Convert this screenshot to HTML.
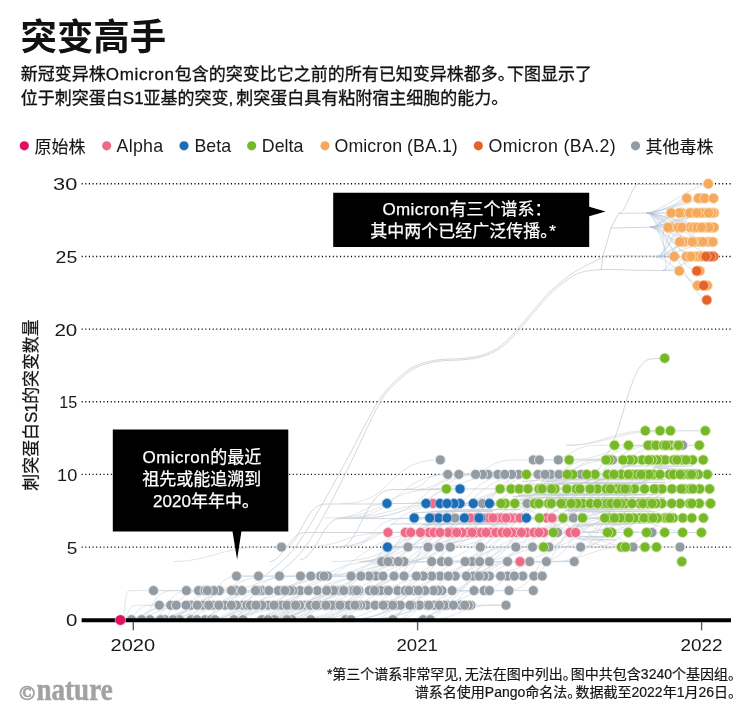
<!DOCTYPE html>
<html lang="zh-CN">
<head>
<meta charset="utf-8">
<title>突变高手</title>
<style>
html,body{margin:0;padding:0;background:#fff;}
body{width:751px;height:720px;overflow:hidden;position:relative;font-family:"Liberation Sans", "Noto Sans CJK SC", sans-serif;}
svg{position:absolute;left:0;top:0;display:block;will-change:transform;}
.p{letter-spacing:-0.5em;}
</style>
</head>
<body>
<svg width="751" height="720" viewBox="0 0 751 720">
<rect width="751" height="720" fill="#fff"/>

<!-- title + subtitle -->
<text x="20.6" y="50.2" font-family='"Liberation Sans", "Noto Sans CJK SC", sans-serif' font-weight="700" font-size="36.4" fill="#111">突变高手</text>
<g font-family='"Liberation Sans", "Noto Sans CJK SC", sans-serif' font-size="17" fill="#111" stroke="#111" stroke-width="0.3">
<text x="20.8" y="80.3">新冠变异株<tspan letter-spacing="0.66">Omicron</tspan>包含的突变比它之前的所有已知变异株都多<tspan>。</tspan><tspan dx="-7.6">下图显示了</tspan></text>
<text x="20.8" y="104.3">位于刺突蛋白S1亚基的突变<tspan>,</tspan><tspan dx="3">刺突蛋白具有粘附宿主细胞的能力。</tspan></text>
</g>

<!-- legend -->
<g>
<circle cx="24.3" cy="145.8" r="4.6" fill="#e2105f"/>
<circle cx="106.7" cy="145.8" r="4.6" fill="#ee6b88"/>
<circle cx="184" cy="145.8" r="4.6" fill="#1b6db6"/>
<circle cx="251.7" cy="145.8" r="4.6" fill="#76b82a"/>
<circle cx="325" cy="145.8" r="4.6" fill="#f5a95c"/>
<circle cx="478.3" cy="145.8" r="4.6" fill="#e5632b"/>
<circle cx="635.5" cy="145.8" r="4.6" fill="#939ba3"/>
</g>
<g font-family='"Liberation Sans", "Noto Sans CJK SC", sans-serif' font-size="17" fill="#151515" stroke="#151515" stroke-width="0.12">
<text x="34.5" y="152.6">原始株</text>
<text x="645.5" y="152.6">其他毒株</text>
</g>
<g font-family='"Liberation Sans", sans-serif' font-size="17.8" fill="#1a1a1a">
<text x="116.5" y="152" letter-spacing="0.3">Alpha</text>
<text x="194.5" y="152">Beta</text>
<text x="261.8" y="152">Delta</text>
<text x="334.5" y="152" letter-spacing="0.06">Omicron (BA.1)</text>
<text x="488.5" y="152" letter-spacing="0.36">Omicron (BA.2)</text>
</g>

<!-- gridlines -->
<g stroke="#000" stroke-width="1.4" stroke-dasharray="1.1 2.54" fill="none"><line x1="81.6" y1="547.1" x2="733" y2="547.1"/><line x1="81.6" y1="474.4" x2="733" y2="474.4"/><line x1="81.6" y1="401.8" x2="733" y2="401.8"/><line x1="81.6" y1="329.1" x2="733" y2="329.1"/><line x1="81.6" y1="256.5" x2="733" y2="256.5"/><line x1="81.6" y1="183.8" x2="733" y2="183.8"/></g>
<g font-family='"Liberation Sans", sans-serif' font-size="16.4" fill="#1a1a1a"><text x="77.3" y="626.1" text-anchor="end" textLength="11.4" lengthAdjust="spacingAndGlyphs">0</text><text x="77.3" y="553.5" text-anchor="end" textLength="10.6" lengthAdjust="spacingAndGlyphs">5</text><text x="77.3" y="480.8" text-anchor="end" textLength="20.2" lengthAdjust="spacingAndGlyphs">10</text><text x="77.3" y="408.2" text-anchor="end" textLength="18.0" lengthAdjust="spacingAndGlyphs">15</text><text x="77.3" y="335.5" text-anchor="end" textLength="22.9" lengthAdjust="spacingAndGlyphs">20</text><text x="77.3" y="262.9" text-anchor="end" textLength="21.7" lengthAdjust="spacingAndGlyphs">25</text><text x="77.3" y="190.2" text-anchor="end" textLength="24.2" lengthAdjust="spacingAndGlyphs">30</text></g>

<!-- y axis title -->
<text transform="translate(37 405) rotate(-90)" text-anchor="middle" font-family='"Liberation Sans", "Noto Sans CJK SC", sans-serif' font-size="16.9" fill="#151515" stroke="#151515" stroke-width="0.25">刺突蛋白<tspan letter-spacing="-0.7">S1</tspan>的突变数量</text>

<!-- connectors -->
<g fill="none" stroke="#c9d0d7" stroke-width="0.7" stroke-opacity="0.8">
<path d="M121.0 619.7C127.4 619.7 128.7 605.2 135.1 605.2H159.3"/>
<path d="M121.0 619.7C139.6 619.7 133.0 605.2 151.6 605.2H176.3"/>
<path d="M121.0 619.7C146.3 619.7 147.8 605.2 173.1 605.2H186.0"/>
<path d="M124.9 619.7C143.6 619.7 152.3 605.2 170.9 605.2H189.0"/>
<path d="M121.0 619.7C154.6 619.7 157.0 605.2 190.5 605.2H191.0"/>
<path d="M160.5 619.7C171.2 619.7 167.7 605.2 178.4 605.2H203.0"/>
<path d="M153.4 619.7C188.3 619.7 177.2 605.2 212.0 605.2H213.0"/>
<path d="M170.8 619.7C194.3 619.7 184.7 605.2 208.2 605.2H218.8"/>
<path d="M181.7 619.7C196.2 619.7 193.9 605.2 208.4 605.2H231.4"/>
<path d="M200.9 619.7C213.4 619.7 213.1 605.2 225.6 605.2H242.8"/>
<path d="M130.2 619.7C190.8 619.7 170.6 605.2 231.1 605.2H247.0"/>
<path d="M140.6 619.7C207.2 619.7 182.2 605.2 248.7 605.2H250.4"/>
<path d="M190.2 619.7C223.0 619.7 209.3 605.2 242.2 605.2H256.0"/>
<path d="M213.8 619.7C229.8 619.7 232.6 605.2 248.6 605.2H261.8"/>
<path d="M217.3 619.7C239.6 619.7 244.5 605.2 266.7 605.2H268.0"/>
<path d="M211.1 619.7C231.8 619.7 234.3 605.2 255.0 605.2H274.0"/>
<path d="M225.9 619.7C243.5 619.7 251.7 605.2 269.3 605.2H278.0"/>
<path d="M243.7 619.7C254.4 619.7 252.9 605.2 263.7 605.2H282.0"/>
<path d="M209.6 619.7C232.7 619.7 240.6 605.2 263.6 605.2H287.0"/>
<path d="M214.3 619.7C243.3 619.7 243.5 605.2 272.5 605.2H293.4"/>
<path d="M200.1 619.7C234.6 619.7 236.6 605.2 271.0 605.2H295.6"/>
<path d="M242.8 619.7C270.9 619.7 279.8 605.2 307.9 605.2H309.3"/>
<path d="M210.4 619.7C251.7 619.7 262.8 605.2 304.0 605.2H310.4"/>
<path d="M207.5 619.7C256.7 619.7 245.0 605.2 294.2 605.2H316.0"/>
<path d="M261.3 619.7C287.2 619.7 285.7 605.2 311.6 605.2H318.9"/>
<path d="M248.8 619.7C292.6 619.7 273.4 605.2 317.1 605.2H323.7"/>
<path d="M271.0 619.7C287.1 619.7 288.6 605.2 304.7 605.2H328.8"/>
<path d="M294.3 619.7C308.6 619.7 307.6 605.2 321.9 605.2H331.4"/>
<path d="M280.7 619.7C297.4 619.7 305.5 605.2 322.2 605.2H334.8"/>
<path d="M295.3 619.7C309.5 619.7 315.7 605.2 329.9 605.2H339.9"/>
<path d="M279.4 619.7C310.6 619.7 305.3 605.2 336.5 605.2H342.3"/>
<path d="M248.1 619.7C296.9 619.7 283.6 605.2 332.5 605.2H348.9"/>
<path d="M290.3 619.7C307.8 619.7 312.8 605.2 330.4 605.2H355.0"/>
<path d="M258.7 619.7C306.4 619.7 296.7 605.2 344.4 605.2H366.7"/>
<path d="M305.1 619.7C347.0 619.7 332.0 605.2 374.0 605.2H386.6"/>
<path d="M287.6 619.7C342.5 619.7 328.5 605.2 383.4 605.2H400.5"/>
<path d="M370.3 619.7C388.1 619.7 388.8 605.2 406.6 605.2H409.9"/>
<path d="M304.0 619.7C356.4 619.7 345.6 605.2 398.0 605.2H412.0"/>
<path d="M391.5 619.7C401.7 619.7 398.7 605.2 408.9 605.2H428.8"/>
<path d="M351.8 619.7C379.3 619.7 390.3 605.2 417.8 605.2H434.3"/>
<path d="M396.0 619.7C417.3 619.7 411.3 605.2 432.7 605.2H439.3"/>
<path d="M344.3 619.7C383.8 619.7 380.3 605.2 419.8 605.2H444.2"/>
<path d="M369.5 619.7C405.4 619.7 394.2 605.2 430.1 605.2H447.2"/>
<path d="M361.8 619.7C401.0 619.7 412.3 605.2 451.5 605.2H453.4"/>
<path d="M360.6 619.7C410.8 619.7 403.0 605.2 453.2 605.2H460.8"/>
<path d="M422.5 619.7C442.7 619.7 437.9 605.2 458.0 605.2H464.7"/>
<path d="M425.1 619.7C460.9 619.7 458.6 605.2 494.4 605.2H506.0"/>
<path d="M121.0 619.7C126.1 619.7 123.9 590.6 129.0 590.6H153.5"/>
<path d="M130.9 619.7C158.7 619.7 146.0 590.6 173.7 590.6H186.4"/>
<path d="M161.7 605.2C185.8 605.2 178.6 590.6 202.7 590.6H205.0"/>
<path d="M147.1 619.7C168.1 619.7 165.9 590.6 186.9 590.6H207.4"/>
<path d="M148.9 619.7C199.0 619.7 177.4 590.6 227.4 590.6H231.4"/>
<path d="M157.0 619.7C193.6 619.7 196.8 590.6 233.4 590.6H242.0"/>
<path d="M137.7 619.7C211.8 619.7 180.9 590.6 255.0 590.6H258.0"/>
<path d="M223.7 619.7C251.3 619.7 240.8 590.6 268.4 590.6H278.2"/>
<path d="M168.8 619.7C212.0 619.7 217.4 590.6 260.6 590.6H282.0"/>
<path d="M187.7 619.7C221.9 619.7 227.4 590.6 261.6 590.6H285.0"/>
<path d="M202.2 619.7C243.0 619.7 229.8 590.6 270.7 590.6H290.0"/>
<path d="M186.9 605.2C243.6 605.2 220.4 590.6 277.1 590.6H292.9"/>
<path d="M228.6 619.7C257.0 619.7 256.7 590.6 285.1 590.6H308.4"/>
<path d="M225.4 605.2C260.3 605.2 275.2 590.6 310.0 590.6H317.2"/>
<path d="M245.2 619.7C281.1 619.7 286.6 590.6 322.5 590.6H329.5"/>
<path d="M273.2 605.2C297.5 605.2 297.6 590.6 321.9 590.6H335.8"/>
<path d="M298.2 605.2C316.8 605.2 310.5 590.6 329.1 590.6H341.6"/>
<path d="M217.8 619.7C269.6 619.7 267.1 590.6 318.9 590.6H343.8"/>
<path d="M293.9 605.2C322.6 605.2 318.5 590.6 347.2 590.6H351.6"/>
<path d="M282.9 619.7C318.2 619.7 304.4 590.6 339.7 590.6H353.9"/>
<path d="M246.5 619.7C296.6 619.7 303.6 590.6 353.6 590.6H358.9"/>
<path d="M228.2 619.7C301.9 619.7 294.7 590.6 368.4 590.6H371.5"/>
<path d="M255.5 619.7C320.4 619.7 306.2 590.6 371.1 590.6H380.7"/>
<path d="M265.3 619.7C305.5 619.7 324.3 590.6 364.6 590.6H386.4"/>
<path d="M250.5 619.7C326.1 619.7 292.7 590.6 368.3 590.6H388.4"/>
<path d="M327.3 605.2C355.9 605.2 345.9 590.6 374.4 590.6H397.6"/>
<path d="M358.6 605.2C392.2 605.2 377.2 590.6 410.8 590.6H414.6"/>
<path d="M285.8 619.7C355.3 619.7 327.7 590.6 397.2 590.6H418.4"/>
<path d="M388.0 605.2C406.4 605.2 403.5 590.6 422.0 590.6H425.1"/>
<path d="M334.5 619.7C378.7 619.7 385.8 590.6 430.1 590.6H433.3"/>
<path d="M379.5 605.2C396.9 605.2 401.0 590.6 418.4 590.6H442.0"/>
<path d="M391.0 619.7C421.9 619.7 407.7 590.6 438.7 590.6H452.1"/>
<path d="M370.2 619.7C412.6 619.7 409.5 590.6 451.9 590.6H474.0"/>
<path d="M444.5 605.2C460.9 605.2 457.3 590.6 473.7 590.6H484.0"/>
<path d="M410.0 605.2C441.6 605.2 441.0 590.6 472.5 590.6H489.4"/>
<path d="M399.9 619.7C452.2 619.7 447.5 590.6 499.7 590.6H509.0"/>
<path d="M192.7 605.2C219.5 605.2 211.7 576.1 238.6 576.1H258.5"/>
<path d="M200.4 590.6C244.2 590.6 230.6 576.1 274.5 576.1H279.5"/>
<path d="M232.7 605.2C255.8 605.2 258.4 576.1 281.5 576.1H300.5"/>
<path d="M207.3 590.6C270.7 590.6 244.9 576.1 308.4 576.1H320.5"/>
<path d="M250.6 619.7C279.4 619.7 285.3 576.1 314.2 576.1H324.0"/>
<path d="M253.7 590.6C301.2 590.6 298.9 576.1 346.4 576.1H351.0"/>
<path d="M247.2 590.6C294.7 590.6 298.2 576.1 345.7 576.1H369.0"/>
<path d="M251.6 619.7C321.6 619.7 305.2 576.1 375.2 576.1H376.0"/>
<path d="M250.3 605.2C302.3 605.2 320.0 576.1 371.9 576.1H383.0"/>
<path d="M327.1 590.6C345.6 590.6 351.6 576.1 370.1 576.1H394.0"/>
<path d="M302.1 605.2C366.1 605.2 344.6 576.1 408.7 576.1H416.4"/>
<path d="M310.1 619.7C375.5 619.7 348.5 576.1 414.0 576.1H423.3"/>
<path d="M320.0 605.2C375.7 605.2 364.2 576.1 419.8 576.1H431.7"/>
<path d="M301.8 619.7C357.9 619.7 382.9 576.1 439.0 576.1H440.0"/>
<path d="M389.5 590.6C414.5 590.6 404.5 576.1 429.6 576.1H448.3"/>
<path d="M377.8 605.2C399.9 605.2 409.4 576.1 431.5 576.1H455.3"/>
<path d="M346.8 619.7C410.6 619.7 397.2 576.1 461.1 576.1H484.0"/>
<path d="M454.5 590.6C469.1 590.6 468.1 576.1 482.7 576.1H500.6"/>
<path d="M477.7 590.6C503.7 590.6 496.1 576.1 522.1 576.1H542.2"/>
<path d="M269.2 590.6C335.2 590.6 313.9 561.6 379.9 561.6H391.4"/>
<path d="M320.5 605.2C347.8 605.2 352.3 561.6 379.5 561.6H398.3"/>
<path d="M326.1 576.1C354.4 576.1 362.1 561.6 390.4 561.6H404.0"/>
<path d="M310.7 576.1C358.9 576.1 376.9 561.6 425.1 561.6H431.7"/>
<path d="M308.4 590.6C356.6 590.6 368.9 561.6 417.1 561.6H441.4"/>
<path d="M346.6 590.6C396.4 590.6 381.6 561.6 431.4 561.6H448.3"/>
<path d="M405.7 590.6C435.2 590.6 436.0 561.6 465.5 561.6H479.7"/>
<path d="M454.7 576.1C476.8 576.1 479.6 561.6 501.6 561.6H507.5"/>
<path d="M475.7 576.1C499.9 576.1 497.4 561.6 521.6 561.6H546.4"/>
<path d="M481.7 576.1C510.5 576.1 520.6 561.6 549.4 561.6H574.2"/>
<path d="M173.1 561.6C208.2 561.6 223.5 547.1 258.6 547.1H281.5"/>
<path d="M366.7 561.6C382.7 561.6 377.0 547.1 393.0 547.1H408.0"/>
<path d="M359.4 561.6C383.4 561.6 382.3 547.1 406.3 547.1H428.0"/>
<path d="M286.0 605.2C368.8 605.2 354.0 547.1 436.8 547.1H439.4"/>
<path d="M410.1 561.6C423.1 561.6 428.8 547.1 441.8 547.1H450.3"/>
<path d="M387.4 605.2C437.1 605.2 461.0 547.1 510.7 547.1H515.8"/>
<path d="M427.9 605.2C465.3 605.2 479.6 547.1 517.0 547.1H532.5"/>
<path d="M453.4 576.1C493.4 576.1 507.4 547.1 547.4 547.1H549.0"/>
<path d="M506.5 590.6C540.7 590.6 533.0 547.1 567.3 547.1H580.6"/>
<path d="M549.2 561.6C585.8 561.6 589.3 547.1 625.9 547.1H633.0"/>
<path d="M421.4 576.1C472.3 576.1 496.3 532.5 547.1 532.5H557.5"/>
<path d="M416.2 532.5C457.6 532.5 441.0 503.5 482.4 503.5H482.5"/>
<path d="M455.5 518.0C481.0 518.0 479.4 503.5 504.9 503.5H527.0"/>
<path d="M406.4 488.9C429.2 488.9 421.5 474.4 444.2 474.4H447.8"/>
<path d="M345.0 518.0C400.1 518.0 394.6 474.4 449.6 474.4H458.9"/>
<path d="M412.8 503.5C437.2 503.5 446.9 474.4 471.3 474.4H475.6"/>
<path d="M419.9 488.9C437.0 488.9 444.4 474.4 461.6 474.4H482.5"/>
<path d="M358.1 518.0C439.5 518.0 406.7 474.4 488.1 474.4H497.8"/>
<path d="M428.8 488.9C462.2 488.9 469.8 474.4 503.2 474.4H518.6"/>
<path d="M458.5 518.0C495.3 518.0 491.2 474.4 528.0 474.4H538.0"/>
<path d="M495.3 488.9C510.7 488.9 505.4 474.4 520.7 474.4H545.0"/>
<path d="M418.0 518.0C483.6 518.0 468.1 474.4 533.8 474.4H550.6"/>
<path d="M458.9 503.5C506.9 503.5 497.2 474.4 545.1 474.4H558.9"/>
<path d="M505.8 503.5C540.1 503.5 540.5 474.4 574.8 474.4H581.0"/>
<path d="M342.0 503.5C396.2 503.5 385.5 459.9 439.7 459.9H440.3"/>
<path d="M458.3 474.4C494.3 474.4 481.8 459.9 517.8 459.9H533.3"/>
<path d="M558.4 474.4C574.1 474.4 579.8 459.9 595.5 459.9H606.3"/>
<path d="M495.6 503.5C545.8 503.5 561.4 459.9 611.5 459.9H612.5"/>
<path d="M403.5 619.7C464.1 619.7 458.1 561.6 518.6 561.6H520.0"/>
<path d="M348.8 547.1C369.6 547.1 365.6 532.5 386.3 532.5H388.0"/>
<path d="M290.4 547.1C359.5 547.1 329.4 532.5 398.5 532.5H410.8"/>
<path d="M276.9 590.6C350.3 590.6 354.0 532.5 427.4 532.5H429.0"/>
<path d="M355.6 576.1C383.5 576.1 391.7 532.5 419.6 532.5H440.0"/>
<path d="M381.3 561.6C413.0 561.6 409.8 532.5 441.4 532.5H448.0"/>
<path d="M398.1 547.1C422.6 547.1 417.4 532.5 441.9 532.5H452.0"/>
<path d="M331.6 561.6C403.7 561.6 380.4 532.5 452.5 532.5H456.7"/>
<path d="M396.9 576.1C424.9 576.1 412.5 532.5 440.5 532.5H462.0"/>
<path d="M357.5 576.1C395.1 576.1 408.1 532.5 445.7 532.5H467.8"/>
<path d="M409.5 561.6C434.9 561.6 430.8 532.5 456.2 532.5H481.0"/>
<path d="M411.4 547.1C452.5 547.1 440.5 532.5 481.6 532.5H486.0"/>
<path d="M408.2 576.1C451.3 576.1 431.8 532.5 474.8 532.5H490.8"/>
<path d="M346.9 590.6C423.6 590.6 400.9 532.5 477.7 532.5H496.0"/>
<path d="M400.6 561.6C448.5 561.6 443.4 532.5 491.2 532.5H502.0"/>
<path d="M422.6 547.1C459.0 547.1 474.2 532.5 510.6 532.5H511.7"/>
<path d="M458.0 561.6C480.4 561.6 484.7 532.5 507.1 532.5H516.0"/>
<path d="M449.0 576.1C487.4 576.1 473.9 532.5 512.2 532.5H521.4"/>
<path d="M410.4 547.1C458.7 547.1 472.6 532.5 520.9 532.5H527.0"/>
<path d="M448.6 590.6C480.7 590.6 485.2 532.5 517.3 532.5H533.9"/>
<path d="M433.1 576.1C499.6 576.1 488.7 532.5 555.1 532.5H570.0"/>
<path d="M452.3 576.1C525.6 576.1 496.1 532.5 569.4 532.5H575.6"/>
<path d="M369.9 561.6C395.6 561.6 402.6 518.0 428.4 518.0H433.0"/>
<path d="M362.2 561.6C398.9 561.6 409.8 518.0 446.5 518.0H470.0"/>
<path d="M360.0 561.6C410.1 561.6 409.3 518.0 459.4 518.0H475.6"/>
<path d="M399.4 561.6C432.3 561.6 446.3 518.0 479.2 518.0H486.7"/>
<path d="M389.7 547.1C448.6 547.1 431.4 518.0 490.4 518.0H502.0"/>
<path d="M384.3 532.5C448.9 532.5 434.8 518.0 499.5 518.0H506.0"/>
<path d="M358.4 576.1C418.0 576.1 426.8 518.0 486.4 518.0H510.0"/>
<path d="M394.3 576.1C459.5 576.1 438.3 518.0 503.5 518.0H514.4"/>
<path d="M445.9 547.1C477.6 547.1 465.0 518.0 496.8 518.0H520.0"/>
<path d="M484.1 561.6C509.7 561.6 514.3 518.0 539.9 518.0H546.4"/>
<path d="M337.3 547.1C381.7 547.1 363.7 518.0 408.2 518.0H414.2"/>
<path d="M358.7 561.6C409.1 561.6 407.2 518.0 457.6 518.0H479.0"/>
<path d="M410.3 547.1C468.4 547.1 458.5 518.0 516.6 518.0H526.4"/>
<path d="M337.7 518.0C358.5 518.0 365.6 503.5 386.3 503.5H387.0"/>
<path d="M343.4 518.0C385.1 518.0 397.6 503.5 439.2 503.5H440.0"/>
<path d="M354.4 518.0C408.0 518.0 398.7 503.5 452.4 503.5H454.0"/>
<path d="M323.2 547.1C406.6 547.1 375.0 503.5 458.4 503.5H460.0"/>
<path d="M405.7 503.5C439.8 503.5 425.1 488.9 459.2 488.9H460.0"/>
<path d="M494.7 503.5C547.4 503.5 566.2 547.1 618.9 547.1H621.4"/>
<path d="M567.4 503.5C603.2 503.5 608.7 547.1 644.5 547.1H645.0"/>
<path d="M518.9 503.5C584.1 503.5 572.1 547.1 637.3 547.1H656.5"/>
<path d="M451.7 518.0C485.1 518.0 500.2 532.5 533.6 532.5H553.3"/>
<path d="M541.0 518.0C565.1 518.0 570.0 532.5 594.1 532.5H607.5"/>
<path d="M564.8 518.0C588.6 518.0 591.4 532.5 615.2 532.5H628.3"/>
<path d="M574.0 503.5C618.4 503.5 602.9 532.5 647.3 532.5H664.7"/>
<path d="M618.3 518.0C652.8 518.0 659.8 532.5 694.3 532.5H701.4"/>
<path d="M446.2 532.5C497.2 532.5 492.8 518.0 543.8 518.0H563.0"/>
<path d="M514.3 532.5C555.1 532.5 555.0 518.0 595.8 518.0H604.7"/>
<path d="M528.7 576.1C552.3 576.1 563.2 518.0 586.8 518.0H609.0"/>
<path d="M529.0 547.1C560.8 547.1 569.0 518.0 600.8 518.0H614.4"/>
<path d="M508.8 561.6C568.5 561.6 555.4 518.0 615.1 518.0H633.9"/>
<path d="M546.1 547.1C582.8 547.1 581.0 518.0 617.7 518.0H639.4"/>
<path d="M580.6 547.1C611.7 547.1 601.9 518.0 633.0 518.0H644.0"/>
<path d="M583.8 532.5C612.1 532.5 604.8 518.0 633.1 518.0H649.2"/>
<path d="M578.4 547.1C613.2 547.1 600.6 518.0 635.4 518.0H653.0"/>
<path d="M537.6 532.5C593.7 532.5 583.4 518.0 639.4 518.0H657.5"/>
<path d="M600.0 532.5C638.7 532.5 621.4 518.0 660.2 518.0H664.9"/>
<path d="M588.2 547.1C634.7 547.1 613.7 518.0 660.2 518.0H669.8"/>
<path d="M645.6 532.5C656.7 532.5 658.1 518.0 669.1 518.0H691.9"/>
<path d="M430.0 518.0C459.3 518.0 451.8 503.5 481.1 503.5H500.9"/>
<path d="M407.1 561.6C452.4 561.6 459.4 503.5 504.7 503.5H505.3"/>
<path d="M420.3 518.0C476.5 518.0 467.5 503.5 523.7 503.5H534.5"/>
<path d="M454.7 518.0C502.7 518.0 484.2 503.5 532.2 503.5H548.5"/>
<path d="M466.2 518.0C506.7 518.0 504.5 503.5 545.0 503.5H561.0"/>
<path d="M432.0 561.6C482.8 561.6 491.5 503.5 542.2 503.5H564.6"/>
<path d="M444.7 561.6C505.5 561.6 504.1 503.5 564.9 503.5H571.2"/>
<path d="M443.0 547.1C511.4 547.1 495.6 503.5 564.0 503.5H577.0"/>
<path d="M527.5 518.0C564.7 518.0 548.1 503.5 585.3 503.5H597.5"/>
<path d="M523.9 547.1C563.2 547.1 546.2 503.5 585.5 503.5H603.4"/>
<path d="M549.4 532.5C572.5 532.5 569.5 503.5 592.6 503.5H607.0"/>
<path d="M476.8 561.6C540.5 561.6 544.3 503.5 608.0 503.5H617.2"/>
<path d="M537.0 561.6C585.0 561.6 564.8 503.5 612.8 503.5H625.6"/>
<path d="M561.6 561.6C597.1 561.6 597.1 503.5 632.5 503.5H639.4"/>
<path d="M516.2 532.5C579.4 532.5 564.1 503.5 627.3 503.5H643.0"/>
<path d="M591.7 518.0C615.6 518.0 605.4 503.5 629.3 503.5H647.8"/>
<path d="M530.5 518.0C580.7 518.0 577.7 503.5 628.0 503.5H652.0"/>
<path d="M550.2 518.0C596.7 518.0 593.6 503.5 640.1 503.5H656.0"/>
<path d="M555.8 518.0C613.9 518.0 600.2 503.5 658.3 503.5H662.0"/>
<path d="M575.9 532.5C633.8 532.5 615.3 503.5 673.3 503.5H689.5"/>
<path d="M632.1 518.0C655.4 518.0 659.1 503.5 682.4 503.5H691.8"/>
<path d="M621.4 518.0C656.0 518.0 644.5 503.5 679.2 503.5H699.3"/>
<path d="M611.8 547.1C655.8 547.1 654.6 503.5 698.5 503.5H710.5"/>
<path d="M324.8 518.0C397.7 518.0 372.0 488.9 445.0 488.9H446.4"/>
<path d="M416.4 518.0C457.7 518.0 477.6 488.9 518.8 488.9H519.2"/>
<path d="M455.8 503.5C484.8 503.5 491.7 488.9 520.6 488.9H542.0"/>
<path d="M496.7 503.5C520.5 503.5 517.5 488.9 541.3 488.9H551.4"/>
<path d="M430.3 547.1C489.9 547.1 475.8 488.9 535.5 488.9H555.0"/>
<path d="M498.9 547.1C553.3 547.1 533.7 488.9 588.0 488.9H590.0"/>
<path d="M546.8 503.5C570.1 503.5 577.1 488.9 600.4 488.9H606.3"/>
<path d="M532.2 503.5C564.2 503.5 555.8 488.9 587.8 488.9H610.4"/>
<path d="M533.7 503.5C558.4 503.5 570.4 488.9 595.0 488.9H616.6"/>
<path d="M518.3 532.5C567.8 532.5 564.7 488.9 614.2 488.9H621.6"/>
<path d="M545.7 547.1C581.2 547.1 573.7 488.9 609.2 488.9H625.1"/>
<path d="M562.4 532.5C592.6 532.5 578.7 488.9 608.9 488.9H627.3"/>
<path d="M554.4 518.0C582.1 518.0 594.5 488.9 622.2 488.9H644.6"/>
<path d="M557.9 547.1C606.9 547.1 601.1 488.9 650.1 488.9H662.0"/>
<path d="M603.0 518.0C632.7 518.0 645.2 488.9 674.8 488.9H681.1"/>
<path d="M564.9 518.0C622.4 518.0 616.7 488.9 674.2 488.9H684.3"/>
<path d="M600.0 532.5C644.6 532.5 640.6 488.9 685.2 488.9H690.3"/>
<path d="M628.9 503.5C659.8 503.5 654.6 488.9 685.4 488.9H692.9"/>
<path d="M406.3 532.5C466.1 532.5 456.5 474.4 516.2 474.4H526.4"/>
<path d="M529.7 488.9C550.3 488.9 541.8 474.4 562.5 474.4H567.2"/>
<path d="M494.7 532.5C529.8 532.5 525.1 474.4 560.3 474.4H572.8"/>
<path d="M496.4 488.9C536.4 488.9 529.3 474.4 569.3 474.4H586.7"/>
<path d="M480.6 532.5C530.0 532.5 542.5 474.4 591.9 474.4H607.5"/>
<path d="M513.6 488.9C562.0 488.9 563.5 474.4 611.9 474.4H628.3"/>
<path d="M518.7 503.5C566.8 503.5 588.3 474.4 636.4 474.4H641.0"/>
<path d="M529.4 518.0C567.6 518.0 583.5 474.4 621.7 474.4H645.0"/>
<path d="M541.9 488.9C586.2 488.9 585.3 474.4 629.7 474.4H649.0"/>
<path d="M621.8 488.9C637.4 488.9 634.7 474.4 650.3 474.4H660.0"/>
<path d="M584.6 503.5C633.0 503.5 629.7 474.4 678.1 474.4H680.2"/>
<path d="M596.4 488.9C655.5 488.9 629.4 474.4 688.5 474.4H691.5"/>
<path d="M645.5 488.9C673.1 488.9 665.5 474.4 693.1 474.4H693.5"/>
<path d="M562.0 532.5C617.7 532.5 619.6 474.4 675.2 474.4H698.3"/>
<path d="M544.1 474.4C569.2 474.4 566.9 459.9 592.1 459.9H606.0"/>
<path d="M595.3 474.4C616.5 474.4 611.8 459.9 632.9 459.9H633.3"/>
<path d="M573.0 488.9C611.8 488.9 594.9 459.9 633.6 459.9H648.6"/>
<path d="M576.8 488.9C610.3 488.9 609.1 459.9 642.6 459.9H657.0"/>
<path d="M597.5 474.4C626.4 474.4 620.4 459.9 649.3 459.9H665.4"/>
<path d="M558.7 488.9C607.2 488.9 613.9 459.9 662.5 459.9H673.8"/>
<path d="M628.0 488.9C645.2 488.9 640.7 459.9 657.9 459.9H682.2"/>
<path d="M569.8 503.5C623.4 503.5 638.6 459.9 692.1 459.9H692.5"/>
<path d="M545.5 459.9C574.0 459.9 568.8 445.3 597.4 445.3H614.5"/>
<path d="M586.2 459.9C611.5 459.9 618.5 445.3 643.8 445.3H650.5"/>
<path d="M564.7 459.9C610.5 459.9 603.2 445.3 649.0 445.3H670.7"/>
<path d="M558.1 488.9C605.0 488.9 607.6 445.3 654.5 445.3H677.3"/>
<path d="M576.3 488.9C631.6 488.9 613.6 445.3 669.0 445.3H678.5"/>
<path d="M565.4 445.3C602.9 445.3 610.9 430.8 648.4 430.8H660.0"/>
<path d="M566.1 445.3C605.3 445.3 619.8 430.8 658.9 430.8H670.4"/>
</g>
<g fill="none" stroke="#cbd0d6" stroke-width="0.85">
<path d="M262.0 578.0C267.2 573.3 283.3 561.7 293.0 550.0C302.7 538.3 311.1 523.0 320.0 508.0C328.9 493.0 337.1 477.5 346.6 460.0C356.2 442.5 369.1 416.1 377.3 402.9C385.5 389.6 389.7 386.6 395.9 380.5C402.1 374.4 407.8 369.7 414.6 366.3C421.5 362.9 428.3 361.4 437.0 360.0C445.7 358.6 458.1 359.4 466.8 358.1C475.5 356.9 482.3 355.6 489.1 352.5C495.9 349.4 500.3 346.6 507.8 339.5C515.3 332.4 527.1 317.5 533.9 309.7C540.7 301.9 543.8 297.9 548.8 292.9C553.8 287.9 558.7 283.7 563.7 279.8C568.7 275.9 572.4 273.1 578.6 269.5C584.8 265.9 596.0 260.5 601.0 258.2C606.0 255.9 607.2 256.2 608.5 255.8L672 256.5"/>
<path d="M273.0 578.0C278.0 573.3 293.8 561.7 303.0 550.0C312.2 538.3 319.8 523.0 328.0 508.0C336.2 493.0 343.4 477.4 352.0 460.0C360.6 442.6 371.8 416.6 379.3 403.5C386.9 390.4 391.2 387.7 397.3 381.7C403.4 375.7 409.0 371.0 415.8 367.6C422.6 364.2 429.3 362.7 438.0 361.3C446.7 359.9 459.1 360.6 467.8 359.4C476.5 358.1 483.4 356.9 490.3 353.8C497.2 350.7 501.5 347.9 509.0 340.8C516.5 333.7 528.3 318.8 535.1 311.0C541.9 303.2 545.0 299.1 550.0 294.2C555.0 289.3 560.1 285.1 564.9 281.6C569.7 278.1 572.6 275.2 578.6 273.2C584.6 271.2 590.8 270.1 601.0 269.6C611.2 269.1 627.0 270.1 640.0 270.3C653.0 270.5 672.5 270.6 679.0 270.6"/>
<path d="M601 270L603 256L611 228L651 227.2"/>
<path d="M611 228L618.5 213.4L646 213"/>
<path d="M618.5 213.4C626 213 630 190 637 184.4L708 184"/>
<path d="M285 548C300 545 305 504 325 504H387"/>
<path d="M300 560C318 556 322 518.6 340 518.6H414"/>
<path d="M270 562C285 558 290 532.5 305 532.5H388"/>
<path d="M340 548C360 544 366 489.5 392 489.5H446"/>
<path d="M560 489C590 489 600 470 612 445C625 415 632 362 650 359L664.7 358.2"/>
</g>
<g fill="none" stroke="#cfd5dc" stroke-width="0.9">
<path d="M131.5 619.7H430.3"/>
<path d="M159.3 605.2H506.0"/>
<path d="M153.5 590.6H533.3"/>
<path d="M236.5 576.1H542.2"/>
<path d="M381.7 561.6H574.2"/>
<path d="M387.5 547.1H680.0"/>
<path d="M388.0 532.5H701.4"/>
<path d="M414.2 518.0H703.4"/>
<path d="M387.0 503.5H710.5"/>
<path d="M447.8 474.4H707.3"/>
<path d="M533.3 459.9H703.2"/>
<path d="M614.5 445.3H699.3"/>
<path d="M446.4 488.9H709.5"/>
<path d="M645.3 430.8H705.3"/>
</g>
<g fill="none" stroke="#c4ccd8" stroke-width="1.2" stroke-opacity="0.75">
<path d="M522.3 484.9C542.3 483.5 547.3 483.5 562.3 483.5H646.8"/>
<path d="M542.1 484.0C562.1 483.5 567.1 483.5 582.1 483.5H639.3"/>
<path d="M556.4 479.2C576.4 479.7 581.4 479.7 596.4 479.7H665.6"/>
<path d="M522.3 481.6C542.3 479.1 547.3 479.1 562.3 479.1H637.5"/>
<path d="M550.2 485.3C570.2 483.2 575.2 483.2 590.2 483.2H624.1"/>
<path d="M541.0 481.1C561.0 482.3 566.0 482.3 581.0 482.3H665.4"/>
<path d="M546.2 481.1C566.2 479.6 571.2 479.6 586.2 479.6H663.3"/>
<path d="M534.4 493.6C554.4 494.6 559.4 494.6 574.4 494.6H657.3"/>
<path d="M518.3 495.4C538.3 494.8 543.3 494.8 558.3 494.8H629.5"/>
<path d="M517.4 495.6C537.4 494.0 542.4 494.0 557.4 494.0H630.3"/>
<path d="M540.4 491.9C560.4 493.3 565.4 493.3 580.4 493.3H632.6"/>
<path d="M516.6 500.1C536.6 497.7 541.6 497.7 556.6 497.7H665.1"/>
<path d="M512.7 496.4C532.7 497.5 537.7 497.5 552.7 497.5H643.7"/>
<path d="M546.4 498.2C566.4 497.7 571.4 497.7 586.4 497.7H651.6"/>
<path d="M545.5 496.2C565.5 494.8 570.5 494.8 585.5 494.8H645.0"/>
<path d="M570.6 509.6C590.6 507.9 595.6 507.9 610.6 507.9H614.5"/>
<path d="M566.9 509.6C586.9 509.9 591.9 509.9 606.9 509.9H650.3"/>
<path d="M567.5 511.5C587.5 509.2 592.5 509.2 607.5 509.2H623.9"/>
<path d="M568.1 508.7C588.1 508.8 593.1 508.8 608.1 508.8H633.6"/>
<path d="M565.5 510.3C585.5 511.5 590.5 511.5 605.5 511.5H655.1"/>
<path d="M592.1 512.1C612.1 511.5 617.1 511.5 632.1 511.5H621.3"/>
<path d="M622.4 466.1C642.4 466.0 647.4 466.0 662.4 466.0H660.9"/>
<path d="M657.9 468.3C677.9 469.4 682.9 469.4 697.9 469.4H692.7"/>
<path d="M653.0 467.8C673.0 466.0 678.0 466.0 693.0 466.0H654.5"/>
<path d="M614.0 525.1C634.0 523.0 639.0 523.0 654.0 523.0H610.7"/>
<path d="M573.7 525.5C593.7 523.2 598.7 523.2 613.7 523.2H610.1"/>
<path d="M575.9 526.7C595.9 524.1 600.9 524.1 615.9 524.1H629.2"/>
<path d="M569.4 536.5C589.4 537.1 594.4 537.1 609.4 537.1H586.1"/>
<path d="M576.2 538.7C596.2 539.8 601.2 539.8 616.2 539.8H588.7"/>
<path d="M571.2 536.3C591.2 536.5 596.2 536.5 611.2 536.5H601.8"/>
<path d="M431.4 511.7C451.4 509.6 456.4 509.6 471.4 509.6H521.1"/>
<path d="M411.7 513.2C431.7 511.4 436.7 511.4 451.7 511.4H492.9"/>
<path d="M436.6 512.7C456.6 510.6 461.6 510.6 476.6 510.6H492.4"/>
<path d="M422.4 524.9C442.4 524.2 447.4 524.2 462.4 524.2H508.0"/>
<path d="M425.7 525.1C445.7 522.7 450.7 522.7 465.7 522.7H491.0"/>
<path d="M390.9 524.0C410.9 523.9 415.9 523.9 430.9 523.9H506.6"/>
</g>
<g fill="none" stroke="#afc2d6" stroke-width="0.7" stroke-opacity="0.7">
<path d="M646.7 213C658.7 213 694.3 183.8 708.3 183.8"/>
<path d="M650 227.2C662 227.2 672.8 198.3 686.8 198.3"/>
<path d="M646.7 213C658.7 213 684.4 198.3 698.4 198.3"/>
<path d="M646.7 213C658.7 213 690.8 198.3 704.8 198.3"/>
<path d="M646.7 213C658.7 213 699.5 198.3 713.5 198.3"/>
<path d="M646.7 213C658.7 213 657.2 212.9 671.2 212.9"/>
<path d="M650 227.2C662 227.2 665.3 212.9 679.3 212.9"/>
<path d="M650 227.2C662 227.2 667.8 212.9 681.8 212.9"/>
<path d="M656 256.8C668 256.8 678.3 212.9 692.3 212.9"/>
<path d="M656 256.8C668 256.8 682.8 212.9 696.8 212.9"/>
<path d="M650 227.2C662 227.2 687.1 212.9 701.1 212.9"/>
<path d="M650 227.2C662 227.2 694.5 212.9 708.5 212.9"/>
<path d="M646.7 213C658.7 213 697.5 212.9 711.5 212.9"/>
<path d="M650 227.2C662 227.2 700.0 212.9 714.0 212.9"/>
<path d="M662 270.6C674 270.6 654.0 227.4 668.0 227.4"/>
<path d="M646.7 213C658.7 213 656.8 227.4 670.8 227.4"/>
<path d="M656 256.8C668 256.8 664.4 227.4 678.4 227.4"/>
<path d="M646.7 213C658.7 213 667.9 227.4 681.9 227.4"/>
<path d="M662 270.6C674 270.6 675.9 227.4 689.9 227.4"/>
<path d="M646.7 213C658.7 213 679.7 227.4 693.7 227.4"/>
<path d="M650 227.2C662 227.2 687.5 227.4 701.5 227.4"/>
<path d="M646.7 213C658.7 213 691.5 227.4 705.5 227.4"/>
<path d="M656 256.8C668 256.8 694.8 227.4 708.8 227.4"/>
<path d="M650 227.2C662 227.2 697.5 227.4 711.5 227.4"/>
<path d="M646.7 213C658.7 213 700.0 227.4 714.0 227.4"/>
<path d="M650 227.2C662 227.2 668.6 241.9 682.6 241.9"/>
<path d="M656 256.8C668 256.8 678.2 241.9 692.2 241.9"/>
<path d="M646.7 213C658.7 213 681.0 241.9 695.0 241.9"/>
<path d="M650 227.2C662 227.2 685.8 241.9 699.8 241.9"/>
<path d="M646.7 213C658.7 213 694.6 241.9 708.6 241.9"/>
<path d="M656 256.8C668 256.8 698.8 241.9 712.8 241.9"/>
<path d="M646.7 213C658.7 213 660.2 256.5 674.2 256.5"/>
<path d="M646.7 213C658.7 213 676.8 256.5 690.8 256.5"/>
<path d="M650 227.2C662 227.2 681.7 256.5 695.7 256.5"/>
<path d="M656 256.8C668 256.8 688.2 256.5 702.2 256.5"/>
<path d="M656 256.8C668 256.8 692.0 256.5 706.0 256.5"/>
<path d="M662 270.6C674 270.6 694.4 256.5 708.4 256.5"/>
<path d="M646.7 213C658.7 213 699.6 256.5 713.6 256.5"/>
<path d="M650 227.2C662 227.2 682.8 271.0 696.8 271.0"/>
<path d="M656 256.8C668 256.8 689.6 285.5 703.6 285.5"/>
<path d="M646.7 213C658.7 213 692.8 300.0 706.8 300.0"/>
</g>

<!-- dots -->
<clipPath id="plot"><rect x="0" y="0" width="751" height="620.4"/></clipPath>
<g stroke-width="0.9" clip-path="url(#plot)">
<g fill="#939ba3" stroke="#eaecef"><circle cx="341.6" cy="590.6" r="5.0"/><circle cx="423.3" cy="619.7" r="5.0"/><circle cx="300.0" cy="590.6" r="5.0"/><circle cx="278.0" cy="605.2" r="5.0"/><circle cx="431.7" cy="561.6" r="5.0"/><circle cx="165.0" cy="619.7" r="5.0"/><circle cx="633.0" cy="547.1" r="5.0"/><circle cx="282.0" cy="605.2" r="5.0"/><circle cx="203.0" cy="605.2" r="5.0"/><circle cx="179.5" cy="619.7" r="5.0"/><circle cx="292.0" cy="619.7" r="5.0"/><circle cx="489.4" cy="576.1" r="5.0"/><circle cx="396.2" cy="605.2" r="5.0"/><circle cx="497.8" cy="474.4" r="5.0"/><circle cx="450.3" cy="547.1" r="5.0"/><circle cx="533.9" cy="576.1" r="5.0"/><circle cx="515.8" cy="547.1" r="5.0"/><circle cx="366.7" cy="605.2" r="5.0"/><circle cx="236.5" cy="576.1" r="5.0"/><circle cx="482.5" cy="503.5" r="5.0"/><circle cx="455.0" cy="518.0" r="5.0"/><circle cx="150.0" cy="619.7" r="5.0"/><circle cx="170.7" cy="605.2" r="5.0"/><circle cx="473.3" cy="576.1" r="5.0"/><circle cx="529.7" cy="561.6" r="5.0"/><circle cx="189.0" cy="605.2" r="5.0"/><circle cx="441.4" cy="561.6" r="5.0"/><circle cx="426.8" cy="605.2" r="5.0"/><circle cx="546.4" cy="561.6" r="5.0"/><circle cx="452.1" cy="590.6" r="5.0"/><circle cx="236.5" cy="590.6" r="5.0"/><circle cx="305.5" cy="605.2" r="5.0"/><circle cx="381.7" cy="561.6" r="5.0"/><circle cx="268.0" cy="605.2" r="5.0"/><circle cx="242.8" cy="605.2" r="5.0"/><circle cx="442.0" cy="590.6" r="5.0"/><circle cx="219.3" cy="590.6" r="5.0"/><circle cx="323.7" cy="605.2" r="5.0"/><circle cx="391.4" cy="561.6" r="5.0"/><circle cx="414.6" cy="590.6" r="5.0"/><circle cx="242.0" cy="590.6" r="5.0"/><circle cx="522.8" cy="576.1" r="5.0"/><circle cx="141.6" cy="619.7" r="5.0"/><circle cx="262.0" cy="590.6" r="5.0"/><circle cx="342.3" cy="605.2" r="5.0"/><circle cx="470.9" cy="605.2" r="5.0"/><circle cx="472.0" cy="561.6" r="5.0"/><circle cx="447.2" cy="605.2" r="5.0"/><circle cx="236.5" cy="605.2" r="5.0"/><circle cx="345.5" cy="619.7" r="5.0"/><circle cx="465.0" cy="561.6" r="5.0"/><circle cx="397.6" cy="590.6" r="5.0"/><circle cx="282.0" cy="590.6" r="5.0"/><circle cx="573.3" cy="518.0" r="5.0"/><circle cx="430.3" cy="619.7" r="5.0"/><circle cx="550.6" cy="474.4" r="5.0"/><circle cx="176.3" cy="605.2" r="5.0"/><circle cx="652.0" cy="532.5" r="5.0"/><circle cx="440.0" cy="576.1" r="5.0"/><circle cx="320.5" cy="576.1" r="5.0"/><circle cx="371.5" cy="590.6" r="5.0"/><circle cx="518.6" cy="474.4" r="5.0"/><circle cx="436.1" cy="590.6" r="5.0"/><circle cx="300.5" cy="576.1" r="5.0"/><circle cx="198.5" cy="590.6" r="5.0"/><circle cx="369.3" cy="590.6" r="5.0"/><circle cx="468.4" cy="605.2" r="5.0"/><circle cx="455.3" cy="576.1" r="5.0"/><circle cx="290.0" cy="605.2" r="5.0"/><circle cx="351.9" cy="605.2" r="5.0"/><circle cx="317.2" cy="590.6" r="5.0"/><circle cx="438.0" cy="605.2" r="5.0"/><circle cx="404.0" cy="561.6" r="5.0"/><circle cx="308.4" cy="590.6" r="5.0"/><circle cx="225.0" cy="605.2" r="5.0"/><circle cx="318.9" cy="605.2" r="5.0"/><circle cx="533.3" cy="459.9" r="5.0"/><circle cx="489.4" cy="561.6" r="5.0"/><circle cx="405.2" cy="590.6" r="5.0"/><circle cx="376.0" cy="576.1" r="5.0"/><circle cx="327.5" cy="576.1" r="5.0"/><circle cx="581.0" cy="474.4" r="5.0"/><circle cx="394.0" cy="576.1" r="5.0"/><circle cx="332.4" cy="590.6" r="5.0"/><circle cx="458.9" cy="474.4" r="5.0"/><circle cx="293.4" cy="605.2" r="5.0"/><circle cx="334.8" cy="605.2" r="5.0"/><circle cx="606.3" cy="459.9" r="5.0"/><circle cx="386.6" cy="605.2" r="5.0"/><circle cx="507.5" cy="576.1" r="5.0"/><circle cx="488.0" cy="474.4" r="5.0"/><circle cx="131.5" cy="619.7" r="5.0"/><circle cx="351.6" cy="590.6" r="5.0"/><circle cx="297.5" cy="605.2" r="5.0"/><circle cx="274.5" cy="619.7" r="5.0"/><circle cx="509.0" cy="590.6" r="5.0"/><circle cx="533.3" cy="590.6" r="5.0"/><circle cx="484.0" cy="590.6" r="5.0"/><circle cx="419.7" cy="605.2" r="5.0"/><circle cx="213.0" cy="605.2" r="5.0"/><circle cx="480.3" cy="547.1" r="5.0"/><circle cx="353.9" cy="590.6" r="5.0"/><circle cx="186.4" cy="590.6" r="5.0"/><circle cx="448.3" cy="561.6" r="5.0"/><circle cx="234.0" cy="619.7" r="5.0"/><circle cx="557.5" cy="532.5" r="5.0"/><circle cx="258.0" cy="590.6" r="5.0"/><circle cx="440.3" cy="459.9" r="5.0"/><circle cx="278.2" cy="590.6" r="5.0"/><circle cx="682.7" cy="445.3" r="5.0"/><circle cx="408.0" cy="547.1" r="5.0"/><circle cx="680.0" cy="547.1" r="5.0"/><circle cx="482.5" cy="474.4" r="5.0"/><circle cx="386.4" cy="590.6" r="5.0"/><circle cx="358.9" cy="590.6" r="5.0"/><circle cx="310.8" cy="576.1" r="5.0"/><circle cx="261.8" cy="605.2" r="5.0"/><circle cx="299.6" cy="605.2" r="5.0"/><circle cx="310.8" cy="619.7" r="5.0"/><circle cx="538.0" cy="474.4" r="5.0"/><circle cx="444.2" cy="605.2" r="5.0"/><circle cx="428.0" cy="547.1" r="5.0"/><circle cx="348.9" cy="605.2" r="5.0"/><circle cx="243.0" cy="619.7" r="5.0"/><circle cx="205.0" cy="590.6" r="5.0"/><circle cx="153.5" cy="590.6" r="5.0"/><circle cx="274.0" cy="605.2" r="5.0"/><circle cx="388.0" cy="561.6" r="5.0"/><circle cx="213.7" cy="590.6" r="5.0"/><circle cx="507.5" cy="561.6" r="5.0"/><circle cx="398.3" cy="561.6" r="5.0"/><circle cx="460.8" cy="605.2" r="5.0"/><circle cx="287.0" cy="619.7" r="5.0"/><circle cx="247.0" cy="605.2" r="5.0"/><circle cx="539.4" cy="459.9" r="5.0"/><circle cx="261.8" cy="619.7" r="5.0"/><circle cx="542.2" cy="576.1" r="5.0"/><circle cx="309.3" cy="605.2" r="5.0"/><circle cx="375.0" cy="605.2" r="5.0"/><circle cx="527.0" cy="503.5" r="5.0"/><circle cx="356.8" cy="590.6" r="5.0"/><circle cx="434.3" cy="605.2" r="5.0"/><circle cx="437.9" cy="590.6" r="5.0"/><circle cx="428.8" cy="605.2" r="5.0"/><circle cx="328.8" cy="605.2" r="5.0"/><circle cx="250.4" cy="605.2" r="5.0"/><circle cx="464.7" cy="605.2" r="5.0"/><circle cx="532.5" cy="547.1" r="5.0"/><circle cx="558.9" cy="474.4" r="5.0"/><circle cx="431.7" cy="576.1" r="5.0"/><circle cx="484.0" cy="576.1" r="5.0"/><circle cx="479.7" cy="561.6" r="5.0"/><circle cx="287.0" cy="605.2" r="5.0"/><circle cx="448.3" cy="576.1" r="5.0"/><circle cx="439.3" cy="605.2" r="5.0"/><circle cx="500.6" cy="576.1" r="5.0"/><circle cx="191.0" cy="619.7" r="5.0"/><circle cx="412.0" cy="605.2" r="5.0"/><circle cx="335.8" cy="590.6" r="5.0"/><circle cx="343.8" cy="590.6" r="5.0"/><circle cx="558.3" cy="459.9" r="5.0"/><circle cx="400.5" cy="605.2" r="5.0"/><circle cx="574.2" cy="561.6" r="5.0"/><circle cx="329.5" cy="590.6" r="5.0"/><circle cx="506.0" cy="605.2" r="5.0"/><circle cx="433.3" cy="590.6" r="5.0"/><circle cx="612.5" cy="459.9" r="5.0"/><circle cx="207.4" cy="590.6" r="5.0"/><circle cx="423.3" cy="576.1" r="5.0"/><circle cx="310.4" cy="605.2" r="5.0"/><circle cx="474.0" cy="590.6" r="5.0"/><circle cx="324.0" cy="576.1" r="5.0"/><circle cx="545.0" cy="474.4" r="5.0"/><circle cx="514.4" cy="576.1" r="5.0"/><circle cx="425.1" cy="590.6" r="5.0"/><circle cx="392.8" cy="619.7" r="5.0"/><circle cx="331.4" cy="605.2" r="5.0"/><circle cx="360.8" cy="605.2" r="5.0"/><circle cx="439.4" cy="547.1" r="5.0"/><circle cx="489.4" cy="590.6" r="5.0"/><circle cx="255.5" cy="590.6" r="5.0"/><circle cx="392.6" cy="605.2" r="5.0"/><circle cx="208.7" cy="605.2" r="5.0"/><circle cx="378.7" cy="590.6" r="5.0"/><circle cx="511.7" cy="474.4" r="5.0"/><circle cx="292.9" cy="590.6" r="5.0"/><circle cx="231.4" cy="605.2" r="5.0"/><circle cx="408.9" cy="590.6" r="5.0"/><circle cx="258.5" cy="576.1" r="5.0"/><circle cx="333.5" cy="590.6" r="5.0"/><circle cx="351.0" cy="619.7" r="5.0"/><circle cx="475.6" cy="474.4" r="5.0"/><circle cx="380.7" cy="590.6" r="5.0"/><circle cx="279.5" cy="576.1" r="5.0"/><circle cx="268.0" cy="619.7" r="5.0"/><circle cx="191.0" cy="605.2" r="5.0"/><circle cx="256.0" cy="605.2" r="5.0"/><circle cx="416.4" cy="576.1" r="5.0"/><circle cx="453.4" cy="605.2" r="5.0"/><circle cx="409.9" cy="605.2" r="5.0"/><circle cx="186.0" cy="605.2" r="5.0"/><circle cx="383.1" cy="605.2" r="5.0"/><circle cx="504.7" cy="474.4" r="5.0"/><circle cx="326.0" cy="605.2" r="5.0"/><circle cx="290.0" cy="590.6" r="5.0"/><circle cx="160.6" cy="619.7" r="5.0"/><circle cx="388.4" cy="590.6" r="5.0"/><circle cx="197.3" cy="605.2" r="5.0"/><circle cx="339.9" cy="605.2" r="5.0"/><circle cx="159.3" cy="605.2" r="5.0"/><circle cx="447.8" cy="474.4" r="5.0"/><circle cx="205.0" cy="619.7" r="5.0"/><circle cx="549.0" cy="547.1" r="5.0"/><circle cx="418.4" cy="590.6" r="5.0"/><circle cx="369.0" cy="576.1" r="5.0"/><circle cx="357.6" cy="605.2" r="5.0"/><circle cx="360.8" cy="576.1" r="5.0"/><circle cx="479.0" cy="576.1" r="5.0"/><circle cx="355.0" cy="605.2" r="5.0"/><circle cx="351.0" cy="576.1" r="5.0"/><circle cx="404.0" cy="576.1" r="5.0"/><circle cx="197.0" cy="619.7" r="5.0"/><circle cx="211.2" cy="619.7" r="5.0"/><circle cx="580.6" cy="547.1" r="5.0"/><circle cx="215.0" cy="619.7" r="5.0"/><circle cx="383.0" cy="576.1" r="5.0"/><circle cx="326.6" cy="590.6" r="5.0"/><circle cx="281.5" cy="547.1" r="5.0"/><circle cx="231.4" cy="590.6" r="5.0"/><circle cx="268.9" cy="590.6" r="5.0"/><circle cx="218.8" cy="605.2" r="5.0"/><circle cx="316.0" cy="605.2" r="5.0"/><circle cx="173.0" cy="619.7" r="5.0"/><circle cx="466.4" cy="576.1" r="5.0"/><circle cx="374.5" cy="590.6" r="5.0"/><circle cx="295.6" cy="605.2" r="5.0"/><circle cx="285.0" cy="590.6" r="5.0"/></g>
<g fill="#ee6b88" stroke="#fad0d8"><circle cx="490.8" cy="532.5" r="5.0"/><circle cx="516.0" cy="532.5" r="5.0"/><circle cx="405.3" cy="532.5" r="5.0"/><circle cx="527.0" cy="532.5" r="5.0"/><circle cx="486.7" cy="518.0" r="5.0"/><circle cx="452.0" cy="532.5" r="5.0"/><circle cx="497.8" cy="518.0" r="5.0"/><circle cx="433.0" cy="518.0" r="5.0"/><circle cx="476.0" cy="532.5" r="5.0"/><circle cx="543.6" cy="532.5" r="5.0"/><circle cx="448.0" cy="532.5" r="5.0"/><circle cx="489.5" cy="518.0" r="5.0"/><circle cx="514.4" cy="518.0" r="5.0"/><circle cx="481.0" cy="532.5" r="5.0"/><circle cx="467.8" cy="532.5" r="5.0"/><circle cx="520.0" cy="561.6" r="5.0"/><circle cx="533.9" cy="532.5" r="5.0"/><circle cx="520.0" cy="518.0" r="5.0"/><circle cx="502.0" cy="518.0" r="5.0"/><circle cx="410.8" cy="532.5" r="5.0"/><circle cx="510.0" cy="518.0" r="5.0"/><circle cx="472.0" cy="518.0" r="5.0"/><circle cx="546.4" cy="518.0" r="5.0"/><circle cx="388.0" cy="532.5" r="5.0"/><circle cx="429.0" cy="532.5" r="5.0"/><circle cx="472.0" cy="532.5" r="5.0"/><circle cx="570.0" cy="532.5" r="5.0"/><circle cx="575.6" cy="532.5" r="5.0"/><circle cx="434.0" cy="532.5" r="5.0"/><circle cx="486.0" cy="532.5" r="5.0"/><circle cx="475.6" cy="518.0" r="5.0"/><circle cx="493.0" cy="518.0" r="5.0"/><circle cx="433.0" cy="503.5" r="5.0"/><circle cx="539.0" cy="532.5" r="5.0"/><circle cx="506.0" cy="518.0" r="5.0"/><circle cx="511.7" cy="532.5" r="5.0"/><circle cx="496.0" cy="532.5" r="5.0"/><circle cx="440.0" cy="532.5" r="5.0"/><circle cx="462.0" cy="532.5" r="5.0"/><circle cx="470.0" cy="518.0" r="5.0"/><circle cx="502.0" cy="532.5" r="5.0"/><circle cx="420.5" cy="532.5" r="5.0"/><circle cx="552.0" cy="518.0" r="5.0"/><circle cx="507.0" cy="532.5" r="5.0"/><circle cx="521.4" cy="532.5" r="5.0"/><circle cx="456.7" cy="532.5" r="5.0"/></g>
<g fill="#1b6db6" stroke="#a9c9e7"><circle cx="489.4" cy="503.5" r="5.0"/><circle cx="480.6" cy="518.0" r="5.0"/><circle cx="460.0" cy="488.9" r="5.0"/><circle cx="387.5" cy="547.1" r="5.0"/><circle cx="438.6" cy="518.0" r="5.0"/><circle cx="414.2" cy="518.0" r="5.0"/><circle cx="440.0" cy="503.5" r="5.0"/><circle cx="429.7" cy="518.0" r="5.0"/><circle cx="460.0" cy="503.5" r="5.0"/><circle cx="454.0" cy="503.5" r="5.0"/><circle cx="426.0" cy="503.5" r="5.0"/><circle cx="447.0" cy="518.0" r="5.0"/><circle cx="387.0" cy="503.5" r="5.0"/><circle cx="526.4" cy="518.0" r="5.0"/><circle cx="447.0" cy="503.5" r="5.0"/><circle cx="473.3" cy="503.5" r="5.0"/><circle cx="464.4" cy="518.0" r="5.0"/><circle cx="479.0" cy="518.0" r="5.0"/></g>
<g fill="#76b82a" stroke="#cfe79f"><circle cx="656.3" cy="488.9" r="5.0"/><circle cx="569.2" cy="459.9" r="5.0"/><circle cx="683.4" cy="474.4" r="5.0"/><circle cx="664.7" cy="358.2" r="5.0"/><circle cx="709.5" cy="488.9" r="5.0"/><circle cx="650.5" cy="445.3" r="5.0"/><circle cx="684.3" cy="488.9" r="5.0"/><circle cx="689.5" cy="503.5" r="5.0"/><circle cx="648.0" cy="445.3" r="5.0"/><circle cx="703.2" cy="459.9" r="5.0"/><circle cx="642.2" cy="459.9" r="5.0"/><circle cx="682.2" cy="459.9" r="5.0"/><circle cx="699.3" cy="503.5" r="5.0"/><circle cx="649.2" cy="518.0" r="5.0"/><circle cx="682.8" cy="518.0" r="5.0"/><circle cx="710.5" cy="503.5" r="5.0"/><circle cx="553.3" cy="532.5" r="5.0"/><circle cx="661.0" cy="459.9" r="5.0"/><circle cx="639.4" cy="503.5" r="5.0"/><circle cx="660.0" cy="430.8" r="5.0"/><circle cx="597.5" cy="488.9" r="5.0"/><circle cx="634.6" cy="488.9" r="5.0"/><circle cx="609.0" cy="518.0" r="5.0"/><circle cx="511.1" cy="488.9" r="5.0"/><circle cx="583.0" cy="503.5" r="5.0"/><circle cx="619.2" cy="488.9" r="5.0"/><circle cx="548.5" cy="503.5" r="5.0"/><circle cx="645.0" cy="547.1" r="5.0"/><circle cx="632.0" cy="474.4" r="5.0"/><circle cx="590.0" cy="488.9" r="5.0"/><circle cx="670.4" cy="430.8" r="5.0"/><circle cx="576.3" cy="488.9" r="5.0"/><circle cx="691.8" cy="503.5" r="5.0"/><circle cx="669.4" cy="474.4" r="5.0"/><circle cx="680.2" cy="503.5" r="5.0"/><circle cx="699.3" cy="445.3" r="5.0"/><circle cx="653.3" cy="474.4" r="5.0"/><circle cx="606.3" cy="488.9" r="5.0"/><circle cx="555.0" cy="488.9" r="5.0"/><circle cx="665.4" cy="459.9" r="5.0"/><circle cx="707.3" cy="474.4" r="5.0"/><circle cx="662.0" cy="488.9" r="5.0"/><circle cx="616.6" cy="488.9" r="5.0"/><circle cx="646.5" cy="532.5" r="5.0"/><circle cx="595.0" cy="474.4" r="5.0"/><circle cx="664.9" cy="518.0" r="5.0"/><circle cx="690.3" cy="488.9" r="5.0"/><circle cx="703.4" cy="518.0" r="5.0"/><circle cx="621.4" cy="474.4" r="5.0"/><circle cx="691.9" cy="518.0" r="5.0"/><circle cx="698.3" cy="474.4" r="5.0"/><circle cx="682.6" cy="532.5" r="5.0"/><circle cx="688.5" cy="474.4" r="5.0"/><circle cx="673.5" cy="474.4" r="5.0"/><circle cx="657.0" cy="459.9" r="5.0"/><circle cx="609.0" cy="459.9" r="5.0"/><circle cx="628.3" cy="532.5" r="5.0"/><circle cx="539.0" cy="488.9" r="5.0"/><circle cx="692.5" cy="459.9" r="5.0"/><circle cx="543.6" cy="547.1" r="5.0"/><circle cx="645.0" cy="474.4" r="5.0"/><circle cx="604.7" cy="518.0" r="5.0"/><circle cx="654.2" cy="488.9" r="5.0"/><circle cx="625.6" cy="503.5" r="5.0"/><circle cx="667.4" cy="518.0" r="5.0"/><circle cx="500.1" cy="488.9" r="5.0"/><circle cx="614.5" cy="445.3" r="5.0"/><circle cx="647.8" cy="503.5" r="5.0"/><circle cx="639.4" cy="518.0" r="5.0"/><circle cx="551.4" cy="488.9" r="5.0"/><circle cx="644.6" cy="488.9" r="5.0"/><circle cx="686.0" cy="459.9" r="5.0"/><circle cx="564.6" cy="503.5" r="5.0"/><circle cx="621.0" cy="503.5" r="5.0"/><circle cx="656.0" cy="445.3" r="5.0"/><circle cx="586.7" cy="474.4" r="5.0"/><circle cx="671.9" cy="488.9" r="5.0"/><circle cx="566.8" cy="488.9" r="5.0"/><circle cx="636.7" cy="474.4" r="5.0"/><circle cx="673.8" cy="459.9" r="5.0"/><circle cx="551.4" cy="503.5" r="5.0"/><circle cx="539.4" cy="518.0" r="5.0"/><circle cx="577.0" cy="503.5" r="5.0"/><circle cx="446.4" cy="488.9" r="5.0"/><circle cx="603.4" cy="503.5" r="5.0"/><circle cx="505.3" cy="503.5" r="5.0"/><circle cx="649.0" cy="474.4" r="5.0"/><circle cx="633.9" cy="518.0" r="5.0"/><circle cx="590.2" cy="503.5" r="5.0"/><circle cx="571.2" cy="503.5" r="5.0"/><circle cx="624.2" cy="518.0" r="5.0"/><circle cx="680.2" cy="474.4" r="5.0"/><circle cx="705.3" cy="430.8" r="5.0"/><circle cx="572.8" cy="474.4" r="5.0"/><circle cx="621.4" cy="547.1" r="5.0"/><circle cx="662.0" cy="503.5" r="5.0"/><circle cx="699.7" cy="488.9" r="5.0"/><circle cx="607.0" cy="503.5" r="5.0"/><circle cx="534.5" cy="503.5" r="5.0"/><circle cx="611.0" cy="503.5" r="5.0"/><circle cx="670.7" cy="445.3" r="5.0"/><circle cx="519.2" cy="488.9" r="5.0"/><circle cx="627.3" cy="488.9" r="5.0"/><circle cx="567.2" cy="474.4" r="5.0"/><circle cx="652.0" cy="459.9" r="5.0"/><circle cx="610.4" cy="488.9" r="5.0"/><circle cx="693.5" cy="474.4" r="5.0"/><circle cx="677.0" cy="459.9" r="5.0"/><circle cx="671.7" cy="503.5" r="5.0"/><circle cx="673.2" cy="518.0" r="5.0"/><circle cx="542.0" cy="488.9" r="5.0"/><circle cx="617.2" cy="503.5" r="5.0"/><circle cx="514.8" cy="503.5" r="5.0"/><circle cx="643.0" cy="503.5" r="5.0"/><circle cx="526.4" cy="474.4" r="5.0"/><circle cx="663.6" cy="445.3" r="5.0"/><circle cx="648.6" cy="459.9" r="5.0"/><circle cx="681.8" cy="561.6" r="5.0"/><circle cx="539.0" cy="503.5" r="5.0"/><circle cx="629.0" cy="518.0" r="5.0"/><circle cx="607.5" cy="474.4" r="5.0"/><circle cx="528.0" cy="488.9" r="5.0"/><circle cx="666.0" cy="445.3" r="5.0"/><circle cx="620.0" cy="518.0" r="5.0"/><circle cx="633.3" cy="459.9" r="5.0"/><circle cx="657.5" cy="518.0" r="5.0"/><circle cx="669.8" cy="518.0" r="5.0"/><circle cx="656.0" cy="503.5" r="5.0"/><circle cx="677.3" cy="445.3" r="5.0"/><circle cx="628.3" cy="474.4" r="5.0"/><circle cx="664.7" cy="532.5" r="5.0"/><circle cx="692.9" cy="488.9" r="5.0"/><circle cx="632.0" cy="503.5" r="5.0"/><circle cx="701.4" cy="532.5" r="5.0"/><circle cx="656.5" cy="547.1" r="5.0"/><circle cx="681.1" cy="488.9" r="5.0"/><circle cx="641.0" cy="474.4" r="5.0"/><circle cx="597.5" cy="503.5" r="5.0"/><circle cx="621.6" cy="488.9" r="5.0"/><circle cx="582.5" cy="518.0" r="5.0"/><circle cx="645.3" cy="430.8" r="5.0"/><circle cx="710.5" cy="503.5" r="5.0"/><circle cx="611.7" cy="532.5" r="5.0"/><circle cx="678.5" cy="445.3" r="5.0"/><circle cx="710.5" cy="503.5" r="5.0"/><circle cx="625.1" cy="488.9" r="5.0"/><circle cx="652.0" cy="503.5" r="5.0"/><circle cx="500.9" cy="503.5" r="5.0"/><circle cx="580.0" cy="488.9" r="5.0"/><circle cx="628.5" cy="445.3" r="5.0"/><circle cx="625.6" cy="547.1" r="5.0"/><circle cx="563.0" cy="518.0" r="5.0"/><circle cx="614.0" cy="474.4" r="5.0"/><circle cx="660.0" cy="474.4" r="5.0"/><circle cx="691.5" cy="474.4" r="5.0"/><circle cx="629.5" cy="459.9" r="5.0"/><circle cx="561.0" cy="503.5" r="5.0"/><circle cx="614.4" cy="518.0" r="5.0"/><circle cx="644.0" cy="518.0" r="5.0"/><circle cx="607.5" cy="532.5" r="5.0"/><circle cx="653.0" cy="518.0" r="5.0"/><circle cx="606.0" cy="459.9" r="5.0"/><circle cx="622.9" cy="459.9" r="5.0"/></g>
<g fill="#f5a95c" stroke="#fbd8b0"><circle cx="684.5" cy="241.9" r="5.0"/><circle cx="708.6" cy="241.9" r="5.0"/><circle cx="703.8" cy="212.9" r="5.0"/><circle cx="670.8" cy="227.4" r="5.0"/><circle cx="682.6" cy="241.9" r="5.0"/><circle cx="701.8" cy="198.3" r="5.0"/><circle cx="686.8" cy="198.3" r="5.0"/><circle cx="679.7" cy="241.9" r="5.0"/><circle cx="714.0" cy="212.9" r="5.0"/><circle cx="686.4" cy="256.5" r="5.0"/><circle cx="668.0" cy="227.4" r="5.0"/><circle cx="711.5" cy="212.9" r="5.0"/><circle cx="695.7" cy="256.5" r="5.0"/><circle cx="689.9" cy="227.4" r="5.0"/><circle cx="692.3" cy="212.9" r="5.0"/><circle cx="705.5" cy="227.4" r="5.0"/><circle cx="708.3" cy="183.8" r="5.0"/><circle cx="697.6" cy="285.5" r="5.0"/><circle cx="681.8" cy="212.9" r="5.0"/><circle cx="711.5" cy="227.4" r="5.0"/><circle cx="698.6" cy="256.5" r="5.0"/><circle cx="707.3" cy="285.5" r="5.0"/><circle cx="702.2" cy="256.5" r="5.0"/><circle cx="714.0" cy="227.4" r="5.0"/><circle cx="695.0" cy="241.9" r="5.0"/><circle cx="693.7" cy="227.4" r="5.0"/><circle cx="708.8" cy="227.4" r="5.0"/><circle cx="712.8" cy="241.9" r="5.0"/><circle cx="689.7" cy="212.9" r="5.0"/><circle cx="679.3" cy="212.9" r="5.0"/><circle cx="698.4" cy="198.3" r="5.0"/><circle cx="699.8" cy="241.9" r="5.0"/><circle cx="674.2" cy="256.5" r="5.0"/><circle cx="690.8" cy="256.5" r="5.0"/><circle cx="678.4" cy="227.4" r="5.0"/><circle cx="692.2" cy="241.9" r="5.0"/><circle cx="697.0" cy="227.4" r="5.0"/><circle cx="703.0" cy="241.9" r="5.0"/><circle cx="704.8" cy="198.3" r="5.0"/><circle cx="671.2" cy="212.9" r="5.0"/><circle cx="701.1" cy="212.9" r="5.0"/><circle cx="681.9" cy="227.4" r="5.0"/><circle cx="708.5" cy="212.9" r="5.0"/><circle cx="696.8" cy="212.9" r="5.0"/><circle cx="679.3" cy="271.0" r="5.0"/><circle cx="713.5" cy="198.3" r="5.0"/><circle cx="699.8" cy="271.0" r="5.0"/><circle cx="701.5" cy="227.4" r="5.0"/></g>
<g fill="#e5632b" stroke="#f5b9a0"><circle cx="713.6" cy="256.5" r="5.0"/><circle cx="706.8" cy="300.0" r="5.0"/><circle cx="703.6" cy="285.5" r="5.0"/><circle cx="708.4" cy="256.5" r="5.0"/><circle cx="696.8" cy="271.0" r="5.0"/><circle cx="711.0" cy="256.5" r="5.0"/><circle cx="706.0" cy="256.5" r="5.0"/></g>
</g>

<!-- x axis -->
<line x1="81.6" y1="620.3" x2="731" y2="620.3" stroke="#000" stroke-width="4"/>
<circle cx="120.4" cy="620" r="5.3" fill="#e2105f" stroke="#fff" stroke-opacity="0.6" stroke-width="0.8"/>
<g stroke="#5a5a5a" stroke-width="1.4"><line x1="133.3" y1="622" x2="133.3" y2="630.3"/><line x1="417.6" y1="622" x2="417.6" y2="630.3"/><line x1="701.6" y1="622" x2="701.6" y2="630.3"/></g><g font-family='"Liberation Sans", sans-serif' font-size="16.4" fill="#1a1a1a"><text x="132.8" y="651" text-anchor="middle" textLength="44.6" lengthAdjust="spacingAndGlyphs">2020</text><text x="417.2" y="651" text-anchor="middle" textLength="41.4" lengthAdjust="spacingAndGlyphs">2021</text><text x="701.4" y="651" text-anchor="middle" textLength="42.0" lengthAdjust="spacingAndGlyphs">2022</text></g>

<!-- callout 1 -->
<path d="M333.2 192.8H589.2V206.8L605.6 211.4L589.2 216.2V246.9H333.2Z" fill="#000"/>
<g font-family='"Liberation Sans", "Noto Sans CJK SC", sans-serif' font-size="17" fill="#fff" stroke="#fff" stroke-width="0.25">
<text x="382.4" y="215.2"><tspan letter-spacing="0.42">Omicron</tspan>有三个谱系：</text>
<text x="370.2" y="237.4">其中两个已经广泛传播<tspan>。</tspan><tspan dx="-8">*</tspan></text>
</g>

<!-- callout 2 -->
<path d="M112.8 429.4H288.3V531.5H241.4L237.1 559.5L232.5 531.5H112.8Z" fill="#000"/>
<g font-family='"Liberation Sans", "Noto Sans CJK SC", sans-serif' font-size="17" fill="#fff" stroke="#fff" stroke-width="0.25" text-anchor="middle">
<text x="201.8" y="463"><tspan letter-spacing="0.5">Omicron</tspan>的最近</text>
<text x="201.8" y="485.2">祖先或能追溯到</text>
<text x="206" y="507.4">2020年年中。</text>
</g>

<!-- footnote -->
<g font-family='"Liberation Sans", "Noto Sans CJK SC", sans-serif' font-size="14" fill="#151515" stroke="#151515" stroke-width="0.2" text-anchor="end">
<text x="742" y="679.2">*第三个谱系非常罕见<tspan>,</tspan><tspan dx="2.4">无法在图中列出</tspan><tspan>。</tspan><tspan dx="-5.8">图中共包含3240个基因组。</tspan></text>
<text x="742" y="697">谱系名使用Pango命名法<tspan>。</tspan><tspan dx="-5.8">数据截至2022年1月26日。</tspan></text>
</g>

<!-- logo -->
<g fill="#a2a2a2" stroke="#a2a2a2" font-family='"Liberation Serif", serif' font-weight="700">
<text x="19" y="699.8" font-size="21.5" stroke-width="0.7">©</text>
<g transform="translate(36.6 699.8) scale(0.965 1.13)"><text x="0" y="0" font-size="28" stroke-width="0.45">nature</text></g>
</g>
</svg>
</body>
</html>
